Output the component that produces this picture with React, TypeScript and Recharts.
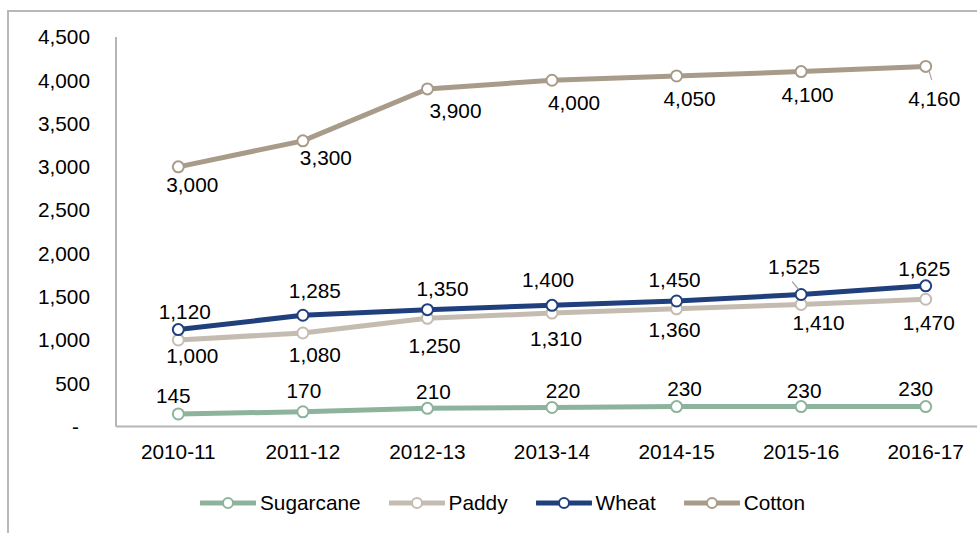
import React from 'react';
import { LineChart, Line, XAxis, YAxis, Legend, LabelList } from 'recharts';

const categories = ['2010-11', '2011-12', '2012-13', '2013-14', '2014-15', '2015-16', '2016-17'];
const sugarcane = [145, 170, 210, 220, 230, 230, 230];
const paddy = [1000, 1080, 1250, 1310, 1360, 1410, 1470];
const wheat = [1120, 1285, 1350, 1400, 1450, 1525, 1625];
const cotton = [3000, 3300, 3900, 4000, 4050, 4100, 4160];
const yTicks = [0, 500, 1000, 1500, 2000, 2500, 3000, 3500, 4000, 4500];

const data = categories.map((c, i) => ({
  year: c,
  Sugarcane: sugarcane[i],
  Paddy: paddy[i],
  Wheat: wheat[i],
  Cotton: cotton[i],
}));

const FONT = '"Liberation Sans", Arial, Helvetica, sans-serif';
const FS = 20.8;
const AXIS_COLOR = '#b5b5b5';

type SeriesCfg = {
  key: string;
  color: string;
  dx: number[];
  dy: number[];
  leader?: { index: number; x1: number; y1: number; x2: number; y2: number };
};

const series: SeriesCfg[] = [
  {
    key: 'Sugarcane',
    color: '#8db39d',
    dx: [-5, 1, 6, 11, 8, 3, -10],
    dy: [-18, -21, -17, -17, -18, -16, -18],
  },
  {
    key: 'Paddy',
    color: '#c4bcb0',
    dx: [14, 12, 7, 4, -2, 17.5, 3],
    dy: [16, 21, 27, 25, 21, 18, 23],
  },
  {
    key: 'Wheat',
    color: '#1f3f7d',
    dx: [6.5, 12, 15, -4, -2, -7, -1.5],
    dy: [-18, -25, -21, -26, -21, -28, -17],
    leader: { index: 5, x1: -9, y1: -13, x2: -2.5, y2: -5 },
  },
  {
    key: 'Cotton',
    color: '#a99b89',
    dx: [14, 23, 28, 22, 13, 6.5, 8.5],
    dy: [18, 17, 22, 22, 23, 23, 32],
    leader: { index: 6, x1: 3.5, y1: 5, x2: 6, y2: 13.5 },
  },
];

const fmt = (v: number) => v.toLocaleString('en-US');

const makeLabel = (cfg: SeriesCfg) => (props: any) => {
  const { x, y, value, index } = props;
  if (x == null || y == null) return null;
  const lx = Number(x);
  const ly = Number(y);
  const ld = cfg.leader && cfg.leader.index === index ? cfg.leader : null;
  return (
    <g>
      {ld && (
        <line
          x1={lx + ld.x1}
          y1={ly + ld.y1}
          x2={lx + ld.x2}
          y2={ly + ld.y2}
          stroke="#a6a6a6"
          strokeWidth={1.2}
        />
      )}
      <text
        x={lx + cfg.dx[index]}
        y={ly + cfg.dy[index]}
        textAnchor="middle"
        dominantBaseline="central"
        fontSize={FS}
        fontFamily={FONT}
        fill="#000"
      >
        {fmt(Number(value))}
      </text>
    </g>
  );
};

const YTick = (props: any) => {
  const { x, y, payload } = props;
  const v = Number(payload.value);
  const isZero = v === 0;
  return (
    <text
      x={isZero ? x - 11 : x}
      y={y}
      dy="0.355em"
      textAnchor="end"
      fontSize={FS}
      fontFamily={FONT}
      fill="#000"
    >
      {isZero ? '-' : fmt(v)}
    </text>
  );
};

const renderLegend = () => (
  <div
    style={{
      display: 'flex',
      alignItems: 'center',
      height: 24,
      fontFamily: FONT,
      fontSize: FS,
      color: '#000',
      whiteSpace: 'nowrap',
    }}
  >
    {series.map((s, i) => (
      <div
        key={s.key}
        style={{ display: 'flex', alignItems: 'center', marginLeft: i === 0 ? 0 : 28 }}
      >
        <svg width={56} height={20} style={{ display: 'block' }}>
          <line x1={1} y1={10} x2={55} y2={10} stroke={s.color} strokeWidth={5} strokeLinecap="round" />
          <circle cx={28} cy={10} r={5} fill="#fff" stroke={s.color} strokeWidth={2} />
        </svg>
        <span style={{ marginLeft: 4, lineHeight: '24px' }}>{s.key}</span>
      </div>
    ))}
  </div>
);

export default function App() {
  return (
    <div
      style={{
        position: 'absolute',
        left: 0,
        top: 0,
        width: 977,
        height: 533,
        overflow: 'hidden',
        background: '#fff',
      }}
    >
      <div
        style={{
          position: 'absolute',
          left: 7,
          top: 10,
          width: 1100,
          height: 700,
          border: '2px solid #b8b8b8',
          boxSizing: 'border-box',
        }}
      />
      <div style={{ position: 'absolute', left: 0, top: 0 }}>
        <LineChart
          width={1000}
          height={533}
          data={data}
          margin={{ top: 37, right: 12, left: 0, bottom: 52.5 }}
        >
          <XAxis
            dataKey="year"
            interval={0}
            padding={{ left: 62.3, right: 62.3 }}
            height={30}
            tickLine={false}
            tickSize={0}
            tickMargin={18}
            axisLine={{ stroke: AXIS_COLOR, strokeWidth: 2 }}
            tick={{ fontSize: FS, fontFamily: FONT, fill: '#000' }}
          />
          <YAxis
            domain={[0, 4500]}
            ticks={yTicks}
            interval={0}
            width={116}
            tickLine={false}
            tickSize={0}
            tickMargin={26}
            axisLine={{ stroke: AXIS_COLOR, strokeWidth: 2 }}
            tick={<YTick />}
          />
          <Legend
            verticalAlign="bottom"
            height={24}
            wrapperStyle={{ left: 200, top: 491, bottom: 'auto', width: 700 }}
            content={renderLegend}
          />
          {series.map((s) => (
            <Line
              key={s.key}
              type="linear"
              dataKey={s.key}
              stroke={s.color}
              strokeWidth={5}
              dot={{ r: 5.5, fill: '#fff', stroke: s.color, strokeWidth: 2 }}
              activeDot={false}
              isAnimationActive={false}
            >
              <LabelList dataKey={s.key} content={makeLabel(s)} />
            </Line>
          ))}
        </LineChart>
      </div>
    </div>
  );
}
